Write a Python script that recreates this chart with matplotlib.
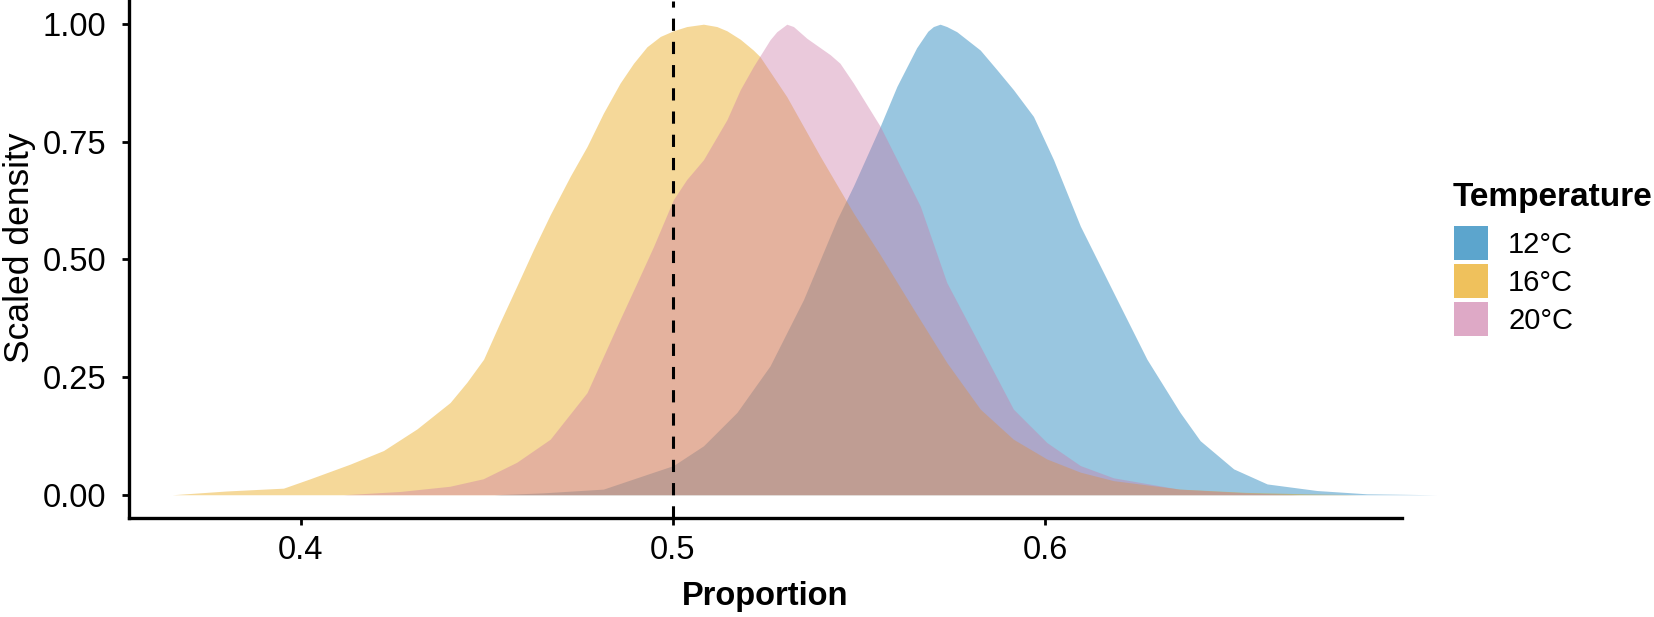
import matplotlib
matplotlib.use("Agg")
import matplotlib.pyplot as plt
from matplotlib.patches import Patch

plt.rcParams['font.family'] = ['Liberation Sans', 'DejaVu Sans']

# values (scaled density per temperature)
labels = ['12°C', '16°C', '20°C']
colors = ['#0072B2', '#E69F00', '#CC79A7']

x_12 = [0.452, 0.465, 0.4813, 0.4948, 0.5001, 0.5082, 0.5172, 0.5261, 0.5351, 0.5396,
        0.5441, 0.5485, 0.5557, 0.5602, 0.5655, 0.5685, 0.570, 0.5718, 0.5736, 0.5763,
        0.5826, 0.5871, 0.5915, 0.5969, 0.6023, 0.6095, 0.6184, 0.6274, 0.6363, 0.6417,
        0.6507, 0.6597, 0.6731, 0.6865, 0.7054]
y_12 = [0, 0.004, 0.012, 0.048, 0.062, 0.104, 0.175, 0.274, 0.415, 0.50,
        0.585, 0.656, 0.783, 0.868, 0.95, 0.985, 0.995, 1.0, 0.995, 0.984,
        0.945, 0.903, 0.861, 0.804, 0.712, 0.571, 0.43, 0.288, 0.175, 0.115,
        0.055, 0.023, 0.009, 0.002, 0]

x_16 = [0.3654, 0.380, 0.3953, 0.4025, 0.4132, 0.4222, 0.4312, 0.4401, 0.4446, 0.4491,
        0.4535, 0.458, 0.4625, 0.467, 0.4724, 0.4769, 0.4813, 0.4858, 0.4894, 0.493,
        0.4966, 0.5001, 0.5037, 0.5082, 0.5118, 0.5145, 0.5181, 0.5216, 0.5234, 0.5306,
        0.5396, 0.5485, 0.5557, 0.5647, 0.5736, 0.5826, 0.5915, 0.6005, 0.6095, 0.6184,
        0.6363, 0.654, 0.670, 0.685]
y_16 = [0, 0.008, 0.014, 0.034, 0.065, 0.094, 0.14, 0.196, 0.239, 0.288,
        0.366, 0.443, 0.521, 0.595, 0.677, 0.74, 0.811, 0.875, 0.917, 0.952,
        0.974, 0.986, 0.995, 1.0, 0.995, 0.986, 0.968, 0.945, 0.931, 0.846,
        0.719, 0.599, 0.51, 0.394, 0.281, 0.182, 0.118, 0.076, 0.048, 0.03,
        0.012, 0.005, 0.002, 0]

x_20 = [0.4114, 0.4267, 0.44, 0.449, 0.458, 0.467, 0.4769, 0.4858, 0.4903, 0.4948,
        0.5001, 0.5037, 0.5082, 0.5145, 0.5181, 0.5216, 0.5261, 0.5279, 0.5306, 0.5324,
        0.536, 0.5378, 0.5423, 0.5449, 0.5485, 0.5557, 0.562, 0.5665, 0.5736, 0.5826,
        0.5915, 0.6005, 0.6095, 0.6184, 0.636, 0.654, 0.668]
y_20 = [0, 0.007, 0.018, 0.034, 0.069, 0.118, 0.217, 0.373, 0.45, 0.528,
        0.627, 0.67, 0.712, 0.797, 0.861, 0.91, 0.967, 0.984, 1.0, 0.995,
        0.97, 0.96, 0.935, 0.917, 0.875, 0.783, 0.684, 0.613, 0.451, 0.316,
        0.182, 0.111, 0.062, 0.036, 0.012, 0.004, 0]

xticks = [0.4, 0.5, 0.6]
yticks = [0.0, 0.25, 0.5, 0.75, 1.0]

fig = plt.figure(figsize=(16.54, 6.17), dpi=100)
ax = fig.add_axes([0.0778, 0.16, 0.7697, 0.8389])

series = [(x_12, y_12), (x_16, y_16), (x_20, y_20)]
for (xs, ys), c in zip(series, colors):
    ax.fill_between(xs, ys, 0, color=c, alpha=0.4, linewidth=0, clip_on=False)

ax.axvline(0.5, color='black', linewidth=2.2, dashes=(4, 3.6))

ax.set_xlim(0.3537, 0.6959)
ax.set_ylim(-0.05, 1.05)
ax.set_xticks(xticks)
ax.set_xticklabels([f'{v:.1f}' for v in xticks])
ax.set_yticks(yticks)
ax.set_yticklabels([f'{v:.2f}' for v in yticks])

for s in ['top', 'right']:
    ax.spines[s].set_visible(False)
for s in ['left', 'bottom']:
    ax.spines[s].set_linewidth(2.4)
ax.tick_params(axis='both', length=5.3, width=2, labelsize=23.5, colors='black')
ax.tick_params(axis='x', pad=6.5)
ax.tick_params(axis='y', pad=11)

ax.set_xlabel('Proportion', fontsize=23.5, fontweight='bold', labelpad=11)
ax.set_ylabel('Scaled density', fontsize=25.5)
ax.yaxis.set_label_coords(-0.0725, 0.522)

fig.text(1453 / 1654, 1 - 197 / 617, 'Temperature', fontsize=24,
         fontweight='bold', ha='left', va='center')
# legend keys look like two stacked 0.4-alpha layers
handles = [Patch(facecolor=c, edgecolor='none', alpha=0.64) for c in colors]
fig.legend(handles, labels, loc='upper left', bbox_to_anchor=(1454 / 1654, 1 - 226 / 617),
           frameon=False, fontsize=21, handlelength=1.16, handleheight=1.417,
           handletextpad=0.7, labelspacing=0.14, borderpad=0, borderaxespad=0)

fig.savefig('out.png', dpi=100)
